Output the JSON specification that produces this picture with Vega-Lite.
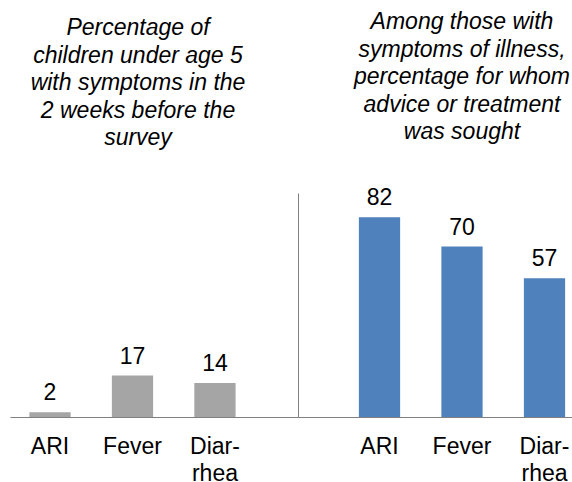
{
  "$schema": "https://vega.github.io/schema/vega-lite/v6.json",
  "background": "white",
  "padding": {"left": 10, "top": 11, "right": 0, "bottom": 0},
  "spacing": 0,
  "config": {"view": {"stroke": null}, "font": "Liberation Sans"},
  "datasets": {
    "symptoms": [
      {"condition": "ARI", "pct": 2},
      {"condition": "Fever", "pct": 17},
      {"condition": "Diarrhea", "pct": 14}
    ],
    "treatment": [
      {"condition": "ARI", "pct": 82},
      {"condition": "Fever", "pct": 70},
      {"condition": "Diarrhea", "pct": 57}
    ]
  },
  "hconcat": [
    {
      "width": 288,
      "height": 224,
      "data": {"name": "symptoms"},
      "title": {
        "text": ["Percentage of", "children under age 5", "with symptoms in the", "2 weeks before the", "survey"],
        "font": "Liberation Sans", "fontSize": 23, "fontStyle": "italic", "fontWeight": "normal", "lineHeight": 27.5,
        "anchor": "middle", "dx": -16, "offset": 43, "color": "black"
      },
      "encoding": {
        "x": {
          "field": "condition", "type": "nominal", "sort": null,
          "scale": {"paddingInner": 0.5, "paddingOuter": 0.496, "align": 0.237},
          "axis": {"title": null, "labelAngle": 0, "ticks": false, "domainColor": "#808080", "labelFont": "Liberation Sans", "labelFontSize": 23, "labelColor": "black", "labelPadding": 18, "labelLineHeight": 27, "labelOverlap": false,
            "labelExpr": "datum.value == 'Diarrhea' ? ['Diar-', 'rhea'] : datum.value"}
        },
        "y": {"field": "pct", "type": "quantitative", "scale": {"domain": [0, 92]}, "axis": null}
      },
      "layer": [
        {"mark": {"type": "bar", "color": "#A5A5A5"}},
        {"mark": {"type": "text", "baseline": "bottom", "dy": -7, "fontSize": 23, "font": "Liberation Sans", "color": "black"}, "encoding": {"text": {"field": "pct", "type": "quantitative"}}}
      ]
    },
    {
      "width": 328,
      "height": 224,
      "data": {"name": "treatment"},
      "title": {
        "text": ["Among those with", "symptoms of illness,", "percentage for whom", "advice or treatment", "was sought"],
        "font": "Liberation Sans", "fontSize": 23, "fontStyle": "italic", "fontWeight": "normal", "lineHeight": 27.5,
        "anchor": "middle", "offset": 43, "color": "black"
      },
      "encoding": {
        "x": {
          "field": "condition", "type": "nominal", "sort": null,
          "scale": {"paddingInner": 0.5, "paddingOuter": 0.738},
          "axis": {"title": null, "labelAngle": 0, "ticks": false, "domainColor": "#808080", "labelFont": "Liberation Sans", "labelFontSize": 23, "labelColor": "black", "labelPadding": 18, "labelLineHeight": 27, "labelOverlap": false,
            "labelExpr": "datum.value == 'Diarrhea' ? ['Diar-', 'rhea'] : datum.value"}
        },
        "y": {"field": "pct", "type": "quantitative", "scale": {"domain": [0, 92]},
          "axis": {"title": null, "labels": false, "ticks": false, "grid": false, "domainColor": "#808080"}}
      },
      "layer": [
        {"mark": {"type": "bar", "color": "#4F81BD"}},
        {"mark": {"type": "text", "baseline": "bottom", "dy": -7, "fontSize": 23, "font": "Liberation Sans", "color": "black"}, "encoding": {"text": {"field": "pct", "type": "quantitative"}}}
      ]
    }
  ]
}
